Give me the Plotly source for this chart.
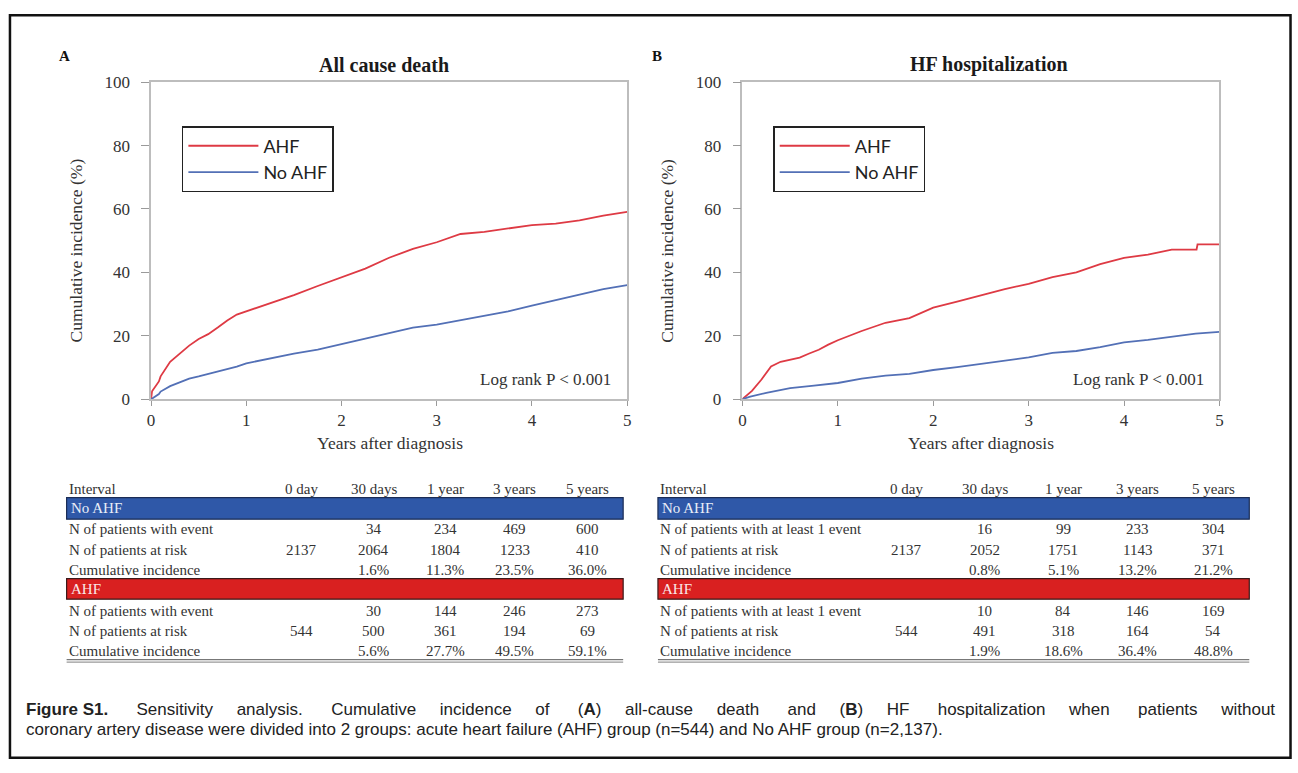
import plotly.graph_objects as go

W, H = 1298, 773

# ---------------- data ----------------
t_A_ahf = [0, 0.01, 0.082, 0.1, 0.2, 0.3, 0.4, 0.5, 0.6, 0.7, 0.8, 0.9, 1.0, 1.25, 1.5, 1.75,
           2.0, 2.25, 2.5, 2.75, 3.0, 3.25, 3.5, 3.75, 4.0, 4.25, 4.5, 4.75, 5.0]
ci_A_ahf = [0, 2.5, 5.6, 7.2, 11.8, 14.4, 16.9, 19.0, 20.5, 22.6, 24.8, 26.7, 27.7, 30.3, 32.8, 35.7,
            38.5, 41.2, 44.6, 47.4, 49.5, 52.1, 52.8, 53.8, 54.9, 55.4, 56.4, 57.9, 59.1]

t_A_no = [0, 0.082, 0.1, 0.2, 0.3, 0.4, 0.5, 0.6, 0.7, 0.8, 0.9, 1.0, 1.25, 1.5, 1.75,
          2.0, 2.25, 2.5, 2.75, 3.0, 3.25, 3.5, 3.75, 4.0, 4.25, 4.5, 4.75, 5.0]
ci_A_no = [0, 1.6, 2.4, 4.1, 5.3, 6.5, 7.2, 8.0, 8.7, 9.4, 10.3, 11.3, 12.8, 14.4, 15.6,
           17.4, 19.0, 21.0, 22.6, 23.5, 24.9, 26.2, 27.7, 29.5, 31.3, 33.0, 34.7, 36.0]

t_B_ahf = [0, 0.082, 0.1, 0.2, 0.3, 0.4, 0.5, 0.6, 0.7, 0.8, 0.9, 1.0, 1.25, 1.5, 1.75,
           2.0, 2.25, 2.5, 2.75, 3.0, 3.25, 3.5, 3.75, 4.0, 4.25, 4.5, 4.76, 4.77, 5.0]
ci_B_ahf = [0, 1.9, 2.6, 6.2, 10.3, 11.8, 12.5, 13.1, 14.4, 15.6, 17.2, 18.6, 21.5, 24.1, 25.6,
            28.9, 30.8, 32.8, 34.7, 36.4, 38.5, 40.0, 42.6, 44.6, 45.6, 47.2, 47.2, 48.8, 48.8]

t_B_no = [0, 0.082, 0.25, 0.5, 0.75, 1.0, 1.25, 1.5, 1.75, 2.0, 2.25, 2.5, 2.75, 3.0,
          3.25, 3.5, 3.75, 4.0, 4.25, 4.5, 4.75, 5.0]
ci_B_no = [0, 0.8, 2.0, 3.5, 4.3, 5.1, 6.5, 7.4, 8.0, 9.2, 10.1, 11.1, 12.1, 13.2,
           14.6, 15.2, 16.4, 17.9, 18.7, 19.7, 20.7, 21.2]

x_ticks = [0, 1, 2, 3, 4, 5]
y_ticks = [0, 20, 40, 60, 80, 100]

intervals = ["0 day", "30 days", "1 year", "3 years", "5 years"]
rowlabels_A = ["N of patients with event", "N of patients at risk", "Cumulative incidence"]
rowlabels_B = ["N of patients with at least 1 event", "N of patients at risk", "Cumulative incidence"]

A_no_event = ["", "34", "234", "469", "600"]
A_no_risk = ["2137", "2064", "1804", "1233", "410"]
A_no_cum = ["", "1.6%", "11.3%", "23.5%", "36.0%"]
A_ahf_event = ["", "30", "144", "246", "273"]
A_ahf_risk = ["544", "500", "361", "194", "69"]
A_ahf_cum = ["", "5.6%", "27.7%", "49.5%", "59.1%"]

B_no_event = ["", "16", "99", "233", "304"]
B_no_risk = ["2137", "2052", "1751", "1143", "371"]
B_no_cum = ["", "0.8%", "5.1%", "13.2%", "21.2%"]
B_ahf_event = ["", "10", "84", "146", "169"]
B_ahf_risk = ["544", "491", "318", "164", "54"]
B_ahf_cum = ["", "1.9%", "18.6%", "36.4%", "48.8%"]

# ---------------- styling ----------------
RED = "#DE3A44"
BLUE = "#5370B6"
SERIF = "Liberation Serif, Times New Roman, serif"
SANS_LEG = "Lato, Open Sans, sans-serif"
CAP = "Liberation Sans, Arial, sans-serif"
TXT = "#333333"


def px(x):
    return x / W


def py(y):
    return 1 - y / H


fig = go.Figure()

fig.add_trace(go.Scatter(x=t_A_ahf, y=ci_A_ahf, mode="lines", name="AHF",
                         line=dict(color=RED, width=1.8), xaxis="x", yaxis="y", legend="legend"))
fig.add_trace(go.Scatter(x=t_A_no, y=ci_A_no, mode="lines", name="No AHF",
                         line=dict(color=BLUE, width=1.8), xaxis="x", yaxis="y", legend="legend"))
fig.add_trace(go.Scatter(x=t_B_ahf, y=ci_B_ahf, mode="lines", name="AHF",
                         line=dict(color=RED, width=1.8), xaxis="x2", yaxis="y2", legend="legend2"))
fig.add_trace(go.Scatter(x=t_B_no, y=ci_B_no, mode="lines", name="No AHF",
                         line=dict(color=BLUE, width=1.8), xaxis="x2", yaxis="y2", legend="legend2"))

xdomA = [px(148), px(627)]
xdomB = [px(743), px(1223)]
ydom = [py(400), py(75)]

xax = dict(range=[0, 5], tickvals=x_ticks, ticks="outside", ticklen=5, tickwidth=1.3,
           tickcolor="#9a9a9a", showline=True, linecolor="#BDBDBD", linewidth=1.5, mirror=True,
           showgrid=False, zeroline=False, tickfont=dict(family=SERIF, size=17, color=TXT),
           fixedrange=True)
yax = dict(range=[0, 100], tickvals=y_ticks, ticks="outside", ticklen=8, tickwidth=1.3,
           tickcolor="#9a9a9a", showline=True, linecolor="#BDBDBD", linewidth=1.5, mirror=True,
           showgrid=False, zeroline=False, tickfont=dict(family=SERIF, size=17, color=TXT),
           ticklabelstandoff=8, fixedrange=True)

leg = dict(xanchor="left", yanchor="top", bordercolor="#222222", borderwidth=1.5,
           bgcolor="white", font=dict(family=SANS_LEG, size=18, color="#222222"),
           itemwidth=70, traceorder="normal")

fig.update_layout(
    width=W, height=H, autosize=False,
    margin=dict(l=0, r=0, t=0, b=0),
    paper_bgcolor="white", plot_bgcolor="white",
    showlegend=True,
    xaxis=dict(xax, domain=xdomA, anchor="y"),
    yaxis=dict(yax, domain=ydom, anchor="x"),
    xaxis2=dict(xax, domain=xdomB, anchor="y2"),
    yaxis2=dict(yax, domain=ydom, anchor="x2"),
    legend=dict(leg, x=px(179), y=py(120)),
    legend2=dict(leg, x=px(774), y=py(120)),
)

ann = []
shapes = []


def text(x, y, s, size=15, family=SERIF, color=TXT, xanchor="center", bold=False, angle=0):
    ann.append(dict(x=px(x), y=py(y), xref="paper", yref="paper", text=(f"<b>{s}</b>" if bold else s),
                    showarrow=False, xanchor=xanchor, yanchor="middle", textangle=angle,
                    font=dict(family=family, size=size, color=color)))


# panel labels and titles
text(60.5, 48, "A", size=15, bold=True, color="#111")
text(657.5, 48, "B", size=15, bold=True, color="#111")
text(382, 57, "All cause death", size=20, bold=True, color="#1a1a1a")
text(991, 57, "HF hospitalization", size=20, bold=True, color="#1a1a1a")

# axis titles
for cx, yx in [(388, 72), (983, 667)]:
    text(cx, 445, "Years after diagnosis", size=17.5)
    text(yx, 248, "Cumulative incidence (%)", size=17.5, angle=-90)

# log-rank
text(613, 380, "Log rank P &lt; 0.001", size=17, xanchor="right")
text(1209, 380, "Log rank P &lt; 0.001", size=17, xanchor="right")

# ---------------- tables ----------------
row_y = {"head": 492.5, "bar1": 512, "r1": 533.5, "r2": 554.5, "r3": 575,
         "bar2": 595, "r4": 617, "r5": 638, "r6": 658.5}


def table(x0, x1, col_x, labels, data_no, data_ahf):
    text(x0 + 0.5, row_y["head"], "Interval", xanchor="left")
    for cx, lab in zip(col_x, intervals):
        text(cx, row_y["head"], lab)
    # bars
    shapes.append(dict(type="rect", xref="paper", yref="paper", x0=px(x0), x1=px(x1),
                       y0=py(523), y1=py(501), fillcolor="#2F58A8",
                       line=dict(color="#1B2C55", width=1.2), layer="below"))
    shapes.append(dict(type="rect", xref="paper", yref="paper", x0=px(x0), x1=px(x1),
                       y0=py(605), y1=py(584), fillcolor="#D92020",
                       line=dict(color="#3A1A1A", width=1.2), layer="below"))
    text(x0 + 2, row_y["bar1"], "No AHF", color="#E9EEF8", xanchor="left")
    text(x0 + 2, row_y["bar2"], "AHF", color="#FBE9E9", xanchor="left")
    for key, lab, vals in zip(["r1", "r2", "r3"], labels, data_no):
        text(x0 + 0.5, row_y[key], lab, xanchor="left")
        for cx, v in zip(col_x, vals):
            if v:
                text(cx, row_y[key], v)
    for key, lab, vals in zip(["r4", "r5", "r6"], labels, data_ahf):
        text(x0 + 0.5, row_y[key], lab, xanchor="left")
        for cx, v in zip(col_x, vals):
            if v:
                text(cx, row_y[key], v)
    shapes.append(dict(type="line", xref="paper", yref="paper", x0=px(x0), x1=px(x1),
                       y0=py(667), y1=py(667), line=dict(color="#777777", width=1.2)))
    shapes.append(dict(type="line", xref="paper", yref="paper", x0=px(x0), x1=px(x1),
                       y0=py(669.5), y1=py(669.5), line=dict(color="#999999", width=1.2)))


table(63, 623, [299, 372, 444, 514, 587], rowlabels_A,
      [A_no_event, A_no_risk, A_no_cum], [A_ahf_event, A_ahf_risk, A_ahf_cum])
table(658, 1253, [908, 987, 1066, 1141, 1217], rowlabels_B,
      [B_no_event, B_no_risk, B_no_cum], [B_ahf_event, B_ahf_risk, B_ahf_cum])

# ---------------- caption (first line justified to the full width) ----------------
cap1_words = ["Sensitivity", "analysis.", "Cumulative", "incidence", "of", "(<b>A</b>)",
              "all-cause", "death", "and", "(<b>B</b>)", "HF", "hospitalization", "when",
              "patients", "without"]
NB = "\u00a0"
wide_gaps = {1, 4, 7, 10, 12}
cap1 = "<b>Figure S1.</b>" + NB * 6
for i, w in enumerate(cap1_words):
    cap1 += w
    if i < len(cap1_words) - 1:
        cap1 += " " + NB * (4 if i in wide_gaps else 3)
cap1 = cap1.replace(" " + NB * 3, " " + NB * 4)
cap2 = ("coronary artery disease were divided into 2 groups: acute heart failure (AHF) group "
        "(n=544) and No AHF group (n=2,137).")
text(20, 718, cap1, size=17, family=CAP, color="#222", xanchor="left")
text(20, 739, cap2, size=17, family=CAP, color="#222", xanchor="left")

# outer frame
shapes.append(dict(type="rect", xref="paper", yref="paper", x0=px(6), x1=px(1294.5),
                   y0=py(767.5), y1=py(6.5), line=dict(color="#111111", width=2.5),
                   fillcolor="rgba(0,0,0,0)"))

fig.update_layout(annotations=ann, shapes=shapes)

fig.write_html("out.html")
